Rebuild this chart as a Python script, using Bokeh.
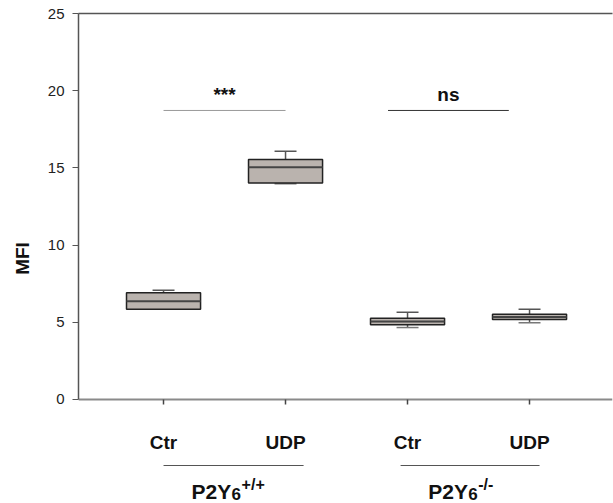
from bokeh.plotting import figure
from bokeh.models import Range1d, FixedTicker, LinearAxis, ColumnDataSource
from bokeh.core.properties import value
from bokeh.embed import file_html
from bokeh.resources import INLINE

# ---- data ----
categories = ["Ctr", "UDP", "Ctr", "UDP"]
positions = [1, 2, 3, 4]
q1 = [5.85, 14.03, 4.84, 5.18]
median = [6.37, 15.05, 5.05, 5.35]
q3 = [6.91, 15.54, 5.27, 5.52]
lower = [5.85, 13.97, 4.66, 4.97]
upper = [7.08, 16.08, 5.65, 5.85]

sig_start = [1.0, 2.84]
sig_end = [2.0, 3.83]
sig_y = [18.72, 18.72]
sig_text = ["***", "ns"]

group_base = ["P2Y", "P2Y"]
group_sub = ["6", "6"]
group_sup = ["+/+", "-/-"]
group_line_start = [1.0, 2.943]
group_line_end = [2.148, 4.082]
y_ticks = [0, 5, 10, 15, 20, 25]

FONT = "Liberation Sans"
BOX_W = 0.607
CAP_W = 0.18
Y_BOTTOM = -6.736  # extra room below zero for category / group labels

p = figure(width=613, height=503, output_backend="svg", toolbar_location=None,
           x_range=Range1d(0.303, 4.68), y_range=Range1d(Y_BOTTOM, 25),
           min_border_left=78, min_border_right=1, min_border_top=13, min_border_bottom=0)
p.outline_line_color = None
p.xgrid.visible = False
p.ygrid.visible = False
p.background_fill_color = "white"

# y axis
ya = p.yaxis[0]
ya.bounds = (0, 25)
ya.ticker = FixedTicker(ticks=y_ticks)
ya.minor_tick_line_color = None
ya.major_tick_in = 0
ya.major_tick_out = 6
ya.axis_line_color = "#555555"
ya.axis_line_width = 1.5
ya.major_tick_line_color = "#555555"
ya.major_label_text_font = FONT
ya.major_label_text_font_size = "15px"
ya.major_label_text_color = "#222222"
ya.major_label_standoff = 8
ya.axis_label = "MFI"
ya.axis_label_text_font = FONT
ya.axis_label_text_font_style = "bold"
ya.axis_label_text_font_size = "19px"
ya.axis_label_text_color = "#111111"
ya.axis_label_standoff = 12

# x axis placed at y = 0
xa = p.xaxis[0]
xa.fixed_location = 0
xa.ticker = FixedTicker(ticks=positions)
xa.major_label_overrides = {pos: lab for pos, lab in zip(positions, categories)}
xa.minor_tick_line_color = None
xa.major_tick_in = 0
xa.major_tick_out = 5
xa.axis_line_color = "#8a8a8a"
xa.axis_line_width = 2
xa.major_tick_line_color = "#444444"
xa.major_tick_line_width = 1.5
xa.major_label_text_font = FONT
xa.major_label_text_font_style = "bold"
xa.major_label_text_font_size = "19px"
xa.major_label_text_color = "#111111"
xa.major_label_standoff = 28

# top border line
top = LinearAxis(ticker=FixedTicker(ticks=[]), major_tick_out=0, major_tick_in=0,
                 minor_tick_line_color=None, axis_line_color="#555555", axis_line_width=1.5)
p.add_layout(top, "above")

# boxes
src = ColumnDataSource(dict(x=positions, q1=q1, q3=q3, med=median, lo=lower, hi=upper,
                            xl=[x - BOX_W / 2 for x in positions], xr=[x + BOX_W / 2 for x in positions],
                            cl=[x - CAP_W / 2 for x in positions], cr=[x + CAP_W / 2 for x in positions]))
p.segment(x0="x", y0="q3", x1="x", y1="hi", source=src, line_color="#555555", line_width=1.5)
p.segment(x0="x", y0="lo", x1="x", y1="q1", source=src, line_color="#555555", line_width=1.5)
p.segment(x0="cl", y0="hi", x1="cr", y1="hi", source=src, line_color="#555555", line_width=1.5)
p.segment(x0="cl", y0="lo", x1="cr", y1="lo", source=src, line_color="#777777", line_width=1.5)
p.vbar(x="x", width=BOX_W, bottom="q1", top="q3", source=src,
       fill_color="#bab3ae", line_color="#222222", line_width=1.5)
p.segment(x0="xl", y0="med", x1="xr", y1="med", source=src, line_color="#444444", line_width=2)

# significance
p.segment(x0=sig_start[:1], y0=sig_y[:1], x1=sig_end[:1], y1=sig_y[:1], line_color="#999999", line_width=1)
p.segment(x0=sig_start[1:], y0=sig_y[1:], x1=sig_end[1:], y1=sig_y[1:], line_color="#333333", line_width=1)
p.text(x=[(a + b) / 2 for a, b in zip(sig_start, sig_end)], y=[y + 1.05 for y in sig_y], text=sig_text,
       text_font=value(FONT), text_font_style="bold", text_font_size="19px",
       text_align="center", text_baseline="middle", text_color="#111111")

# group lines
p.segment(x0=group_line_start, y0=[-4.275] * 2, x1=group_line_end, y1=[-4.275] * 2,
          line_color="#555555", line_width=1)

# group labels
starts = [1.23, 3.17]
p.text(x=starts, y=[-5.93] * 2, text=group_base, text_font=value(FONT), text_font_style="bold",
       text_font_size="21px", text_align="left", text_baseline="alphabetic", text_color="#111111")
p.text(x=starts, y=[-6.1] * 2, x_offset=40, text=group_sub, text_font=value(FONT), text_font_style="bold",
       text_font_size="17px", text_align="left", text_baseline="alphabetic", text_color="#111111")
p.text(x=starts, y=[-5.5] * 2, x_offset=50, text=group_sup, text_font=value(FONT), text_font_style="bold",
       text_font_size="16px", text_align="left", text_baseline="alphabetic", text_color="#111111")

open("out.html", "w").write(file_html(p, INLINE))
